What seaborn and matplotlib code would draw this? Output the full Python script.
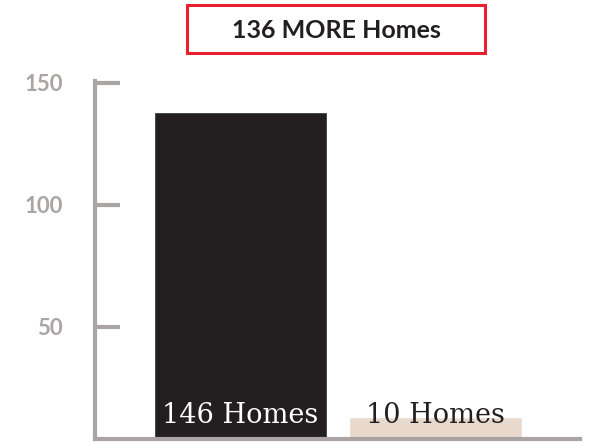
import matplotlib
matplotlib.use("Agg")
import matplotlib.pyplot as plt
import matplotlib.patches as patches
import seaborn as sns

# values as drawn in the picture (bar tops), and their labels
categories = ["Before", "After"]
bar_heights = [138, 13]
bar_labels = ["146 Homes", "10 Homes"]
bar_colors = ["#231f20", "#e9d9cd"]
label_colors = ["white", "#231f20"]
y_ticks = [50, 100, 150]
headline = "136 MORE Homes"

axis_gray = "#aaa5a3"

sns.set_theme(style="white")
plt.rcParams["font.family"] = ["Lato", "DejaVu Sans"]

fig = plt.figure(figsize=(6.04, 4.45), dpi=100)
ax = fig.add_axes([95 / 604, 1 - 439 / 445, 485 / 604, 358 / 445])

sns.barplot(x=categories, y=bar_heights, hue=categories, palette=bar_colors,
            width=0.887, saturation=1, legend=False, ax=ax)

ax.set_xlim(-0.744, 1.743)
ax.set_ylim(4.1, 150.8)
ax.set_yticks(y_ticks)
ax.set_xticks([])
ax.set_xlabel("")
ax.set_ylabel("")

for side in ["top", "right"]:
    ax.spines[side].set_visible(False)
for side in ["left", "bottom"]:
    ax.spines[side].set_color(axis_gray)
    ax.spines[side].set_linewidth(3)

ax.tick_params(axis="y", direction="in", length=18, width=3, color=axis_gray,
               labelcolor=axis_gray, labelsize=16, pad=23, left=True)
for t in ax.get_yticklabels():
    t.set_fontweight("bold")

# labels inside the bars
for i, (lab, col) in enumerate(zip(bar_labels, label_colors)):
    ax.annotate(lab, xy=(i, 0), xycoords=("data", "axes fraction"),
                xytext=(0, 11.5), textcoords="offset points",
                ha="center", va="baseline", color=col,
                fontsize=19.5, family="DejaVu Serif")

# headline box
box = patches.Rectangle((187 / 604, 1 - 53 / 445), 298 / 604, 48 / 445,
                        transform=fig.transFigure, fill=False,
                        edgecolor="#e8202f", linewidth=2.2)
fig.patches.append(box)
fig.text(336 / 604, 1 - 30 / 445, headline, ha="center", va="center",
         fontsize=18, fontweight="bold", color="#231f20")

fig.savefig("out.png", dpi=100)
